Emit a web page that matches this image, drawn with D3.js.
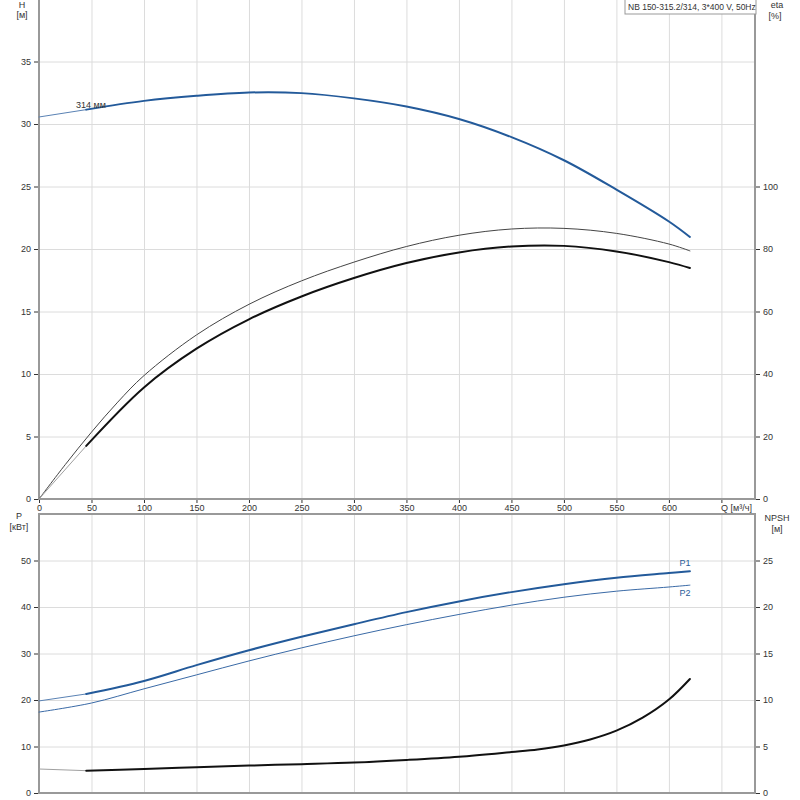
<!DOCTYPE html>
<html>
<head>
<meta charset="utf-8">
<script src="https://cdn.jsdelivr.net/npm/d3@7"></script>
<style>
  body { margin: 0; background: #fff; }
  svg { display: block; font-family: "Liberation Sans", Arial, sans-serif; }
  .grid line { stroke: #dcdcdc; stroke-width: 1; }
  .grid path { display: none; }
  .axis path { display: none; }
  .axis line { stroke: #333; }
  .axis text { fill: #333; font-size: 9px; }
  .frame { stroke: #999; stroke-width: 2; fill: none; }
  .lbl { fill: #333; font-size: 9px; }
</style>
</head>
<body>
<svg id="chart" width="800" height="800"></svg>
<script>
/*global d3*/
"use strict";

// flow ticks, m3/h
var qTicks = [0, 50, 100, 150, 200, 250, 300, 350, 400, 450, 500, 550, 600, 650],
    hTicks = [0, 5, 10, 15, 20, 25, 30, 35],
    etaTicks = [0, 20, 40, 60, 80, 100],
    pTicks = [0, 10, 20, 30, 40, 50],
    npshTicks = [0, 5, 10, 15, 20, 25],

    // first point of the duty range, below it the curves are drawn thin
    qStart = 45,

    // [Q, H]
    head = [[0, 30.56], [45, 31.15], [100, 31.85], [150, 32.26], [200, 32.52],
        [250, 32.47], [300, 32.05], [350, 31.4], [400, 30.4], [450, 28.95], [500, 27.1],
        [550, 24.75], [600, 22.2], [620, 20.96]],

    // [Q, eta %]
    etaPump = [[0, 0], [25, 11], [50, 21.4], [75, 31], [100, 39.5], [150, 52.5],
        [200, 62.3], [250, 69.8], [300, 75.8], [350, 80.8], [400, 84.4], [450, 86.4],
        [500, 86.6], [550, 85], [600, 81.6], [620, 79.4]],
    etaTotal = [[0, 0], [45, 17.0], [100, 35.7], [150, 48.1], [200, 57.5],
        [250, 64.8], [300, 70.7], [350, 75.5], [400, 78.9], [450, 80.8], [500, 81.0],
        [550, 79.2], [600, 75.8], [620, 73.9]],

    // [Q, kW]
    powerP1 = [[0, 19.8], [45, 21.3], [100, 24.1], [150, 27.5], [200, 30.7],
        [250, 33.6], [300, 36.3], [350, 38.9], [400, 41.2], [450, 43.2], [500, 44.9],
        [550, 46.3], [600, 47.3], [620, 47.7]],
    powerP2 = [[0, 17.4], [50, 19.35], [100, 22.4], [150, 25.4], [200, 28.4], [250, 31.2],
        [300, 33.8], [350, 36.2], [400, 38.4], [450, 40.4], [500, 42.1], [550, 43.4],
        [600, 44.3], [620, 44.7]],

    // [Q, NPSH m]
    npsh = [[0, 2.58], [45, 2.4], [100, 2.58], [150, 2.78], [200, 2.95],
        [250, 3.1], [300, 3.27], [350, 3.55], [400, 3.9], [450, 4.4], [475, 4.67],
        [500, 5.1], [525, 5.75], [550, 6.7], [575, 8.1], [600, 10.05], [620, 12.26]];

var svg = d3.select('#chart'),
    left = 39,
    right = 755,
    topTop = -1,
    topBottom = 499,
    botTop = 514,
    botBottom = 793,

    x = d3.scaleLinear().domain([0, 682]).range([left, right]),
    yH = d3.scaleLinear().domain([0, 40]).range([topBottom, topTop]),
    yEta = d3.scaleLinear().domain([0, 160]).range([topBottom, topTop]),
    yP = d3.scaleLinear().domain([0, 60]).range([botBottom, botTop]),
    yNpsh = d3.scaleLinear().domain([0, 30]).range([botBottom, botTop]);

// vertical and horizontal grid, both panels
function grid(yScale, yTicks, y0, y1) {
    svg.append('g').attr('class', 'grid')
        .attr('transform', 'translate(0,' + y1 + ')')
        .call(d3.axisBottom(x).tickValues(qTicks.slice(1)).tickSize(y0 - y1).tickFormat(''));
    svg.append('g').attr('class', 'grid')
        .attr('transform', 'translate(' + left + ',0)')
        .call(d3.axisRight(yScale).tickValues(yTicks.slice(1)).tickSize(right - left).tickFormat(''));
}
grid(yH, hTicks.concat([40]), topTop, topBottom);
grid(yP, pTicks, botTop, botBottom);

// frames
svg.append('path').attr('class', 'frame')
    .attr('d', 'M' + left + ',' + topTop + 'V' + topBottom + 'H' + right + 'V' + topTop);
svg.append('path').attr('class', 'frame')
    .attr('d', 'M' + left + ',' + botTop + 'V' + botBottom + 'H' + right + 'V' + botTop + 'Z');

// axes
svg.append('g').attr('class', 'axis')
    .attr('transform', 'translate(' + (left - 1) + ',0)')
    .call(d3.axisLeft(yH).tickValues(hTicks).tickSize(4).tickPadding(3));
svg.append('g').attr('class', 'axis')
    .attr('transform', 'translate(' + (right + 1) + ',0)')
    .call(d3.axisRight(yEta).tickValues(etaTicks).tickSize(4).tickPadding(3));
svg.append('g').attr('class', 'axis')
    .attr('transform', 'translate(0,' + (topBottom + 1) + ')')
    .call(d3.axisBottom(x).tickValues(qTicks).tickSize(3).tickPadding(2)
        .tickFormat(function (d) { return d === 650 ? '' : d; }));
svg.append('g').attr('class', 'axis')
    .attr('transform', 'translate(' + (left - 1) + ',0)')
    .call(d3.axisLeft(yP).tickValues(pTicks).tickSize(4).tickPadding(3));
svg.append('g').attr('class', 'axis')
    .attr('transform', 'translate(' + (right + 1) + ',0)')
    .call(d3.axisRight(yNpsh).tickValues(npshTicks).tickSize(4).tickPadding(3));

// curves
function curve(data, yScale, color, width) {
    var line = d3.line()
        .x(function (d) { return x(d[0]); })
        .y(function (d) { return yScale(d[1]); })
        .curve(d3.curveCatmullRom.alpha(0.5));
    svg.append('path')
        .attr('d', line(data))
        .attr('fill', 'none')
        .attr('stroke', color)
        .attr('stroke-width', width)
        .attr('stroke-linecap', 'round');
}

// thin lead-in up to qStart, then thick duty range
function dutyCurve(data, yScale, thinColor, color) {
    curve(data.filter(function (d) { return d[0] <= qStart; }), yScale, thinColor, 1);
    curve(data.filter(function (d) { return d[0] >= qStart; }), yScale, color, 2);
}

dutyCurve(head, yH, '#5a82b4', '#235a9a');
curve(etaPump, yEta, '#444', 1);
dutyCurve(etaTotal, yEta, '#a0a0a0', '#111');
curve(powerP2, yP, '#3a6aa6', 1);
dutyCurve(powerP1, yP, '#5a82b4', '#235a9a');
dutyCurve(npsh, yNpsh, '#a0a0a0', '#111');

// texts
function text(str, tx, ty, anchor, color) {
    return svg.append('text').attr('class', 'lbl')
        .attr('x', tx).attr('y', ty)
        .attr('text-anchor', anchor || 'middle')
        .style('fill', color || '#333')
        .text(str);
}
text('H', 22, 8);
text('[м]', 22, 18);
text('eta', 777, 8);
text('[%]', 775, 19);
text('P', 19, 519);
text('[кВт]', 19, 530);
text('NPSH', 777, 521);
text('[м]', 777, 532);
text('Q [м³/ч]', 752, 511, 'end');
text('314 мм', 76, 108, 'start');

var last1 = powerP1[powerP1.length - 1],
    last2 = powerP2[powerP2.length - 1];
text('P1', x(last1[0]) - 5, yP(last1[1]) - 5, 'middle', '#2a5d9a');
text('P2', x(last2[0]) - 5, yP(last2[1]) + 11, 'middle', '#2a5d9a');

// title box
var title = text('NB 150-315.2/314, 3*400 V, 50Hz', 628, 10, 'start').style('font-size', '8.5px'),
    bb = title.node().getBBox();
svg.insert('rect', function () { return title.node(); })
    .attr('x', bb.x - 3).attr('y', -1)
    .attr('width', right + 1 - (bb.x - 3)).attr('height', 15)
    .attr('fill', '#fff').attr('stroke', '#999');
</script>
</body>
</html>
